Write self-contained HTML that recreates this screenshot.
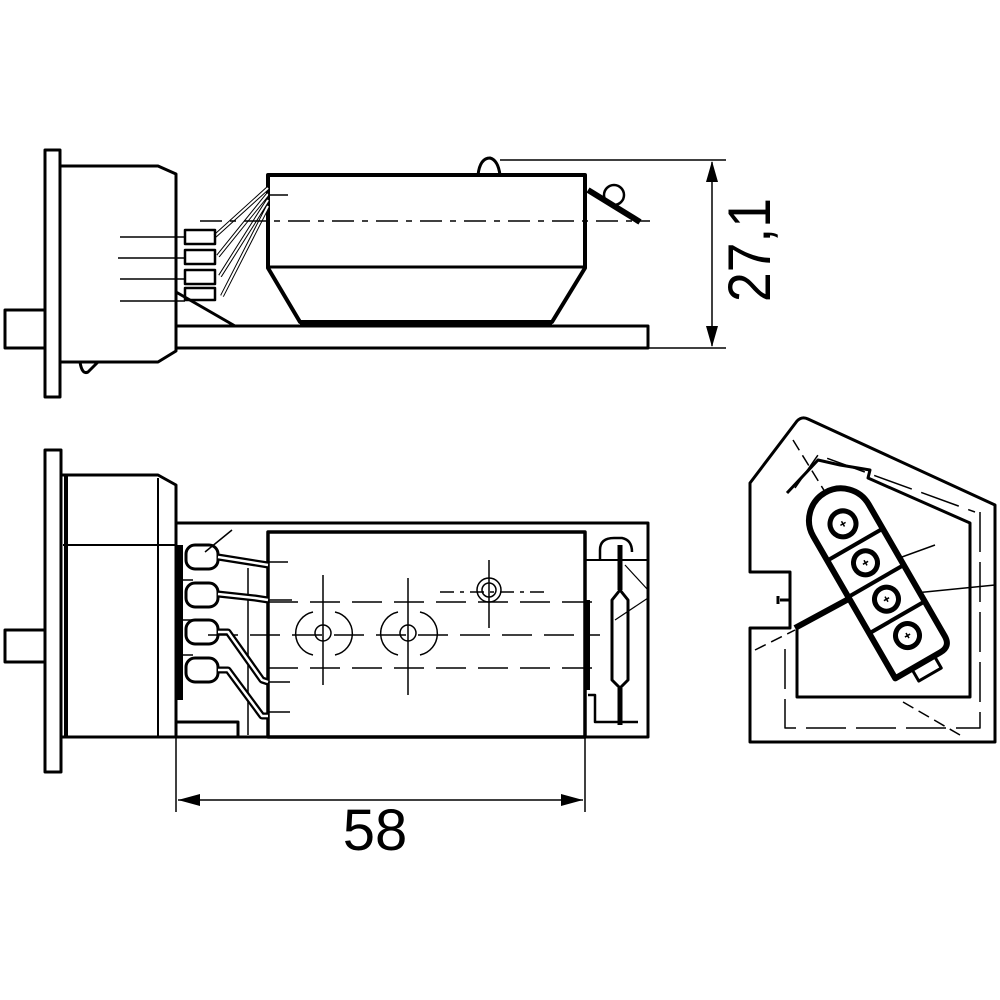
<!DOCTYPE html>
<html><head><meta charset="utf-8"><style>html,body{margin:0;padding:0;background:#fff}svg{display:block}</style></head>
<body>
<svg width="1000" height="1000" viewBox="0 0 1000 1000" xmlns="http://www.w3.org/2000/svg" fill="none" stroke="#000" stroke-linejoin="round">
<!-- ===== TOP VIEW ===== -->
<g stroke-width="3">
<rect x="45" y="150" width="15" height="247"/>
<path d="M60 166 H158 L176 174 V351 L158 362 H60"/>
<rect x="5" y="310" width="40" height="38"/>
<path d="M176 326 H648 V348 H176"/>
<path d="M268 175 H585 V268 L552 322 H300 L268 268 Z" stroke-width="4"/>
<line x1="268" y1="267" x2="585" y2="267"/>
<path d="M478 175 Q480 158 490 158 Q498 160 500 175"/>
<path d="M80 362 Q82 375 88 372 L98 362"/>
</g>
<line x1="300" y1="324" x2="552" y2="324" stroke-width="5"/>
<path d="M176 292 L235 326" stroke-width="3"/>
<!-- wires top -->
<g stroke-width="4">
<path d="M268 188 L215 236 M268 194 L218 256 M268 200 L220 276 M268 206 L222 296"/>
</g>
<g stroke-width="2" stroke="#fff">
<path d="M268 188 L215 236 M268 194 L218 256 M268 200 L220 276 M268 206 L222 296"/>
</g>
<g stroke-width="2.5">
<rect x="185" y="230" width="30" height="14"/>
<rect x="185" y="250" width="30" height="14"/>
<rect x="185" y="270" width="30" height="14"/>
<rect x="185" y="288" width="30" height="12"/>
</g>
<g stroke-width="1.5">
<line x1="120" y1="237" x2="185" y2="237"/><line x1="118" y1="258" x2="185" y2="258"/>
<line x1="120" y1="279" x2="185" y2="279"/><line x1="120" y1="301" x2="185" y2="301"/>
<line x1="268" y1="195" x2="288" y2="195"/>
<line x1="200" y1="221" x2="650" y2="221" stroke-dasharray="22,8,6,8"/>
</g>
<!-- screw top right -->
<circle cx="614" cy="195" r="10" stroke-width="2.5"/>
<line x1="588" y1="190" x2="640" y2="222" stroke-width="6"/>
<!-- dimension 27,1 -->
<g stroke-width="1.5">
<line x1="500" y1="160" x2="726" y2="160"/>
<line x1="648" y1="348" x2="726" y2="348"/>
<line x1="712" y1="162" x2="712" y2="346"/>
</g>
<path d="M712 161 L706 182 L718 182 Z M712 347 L706 326 L718 326 Z" fill="#000" stroke="none"/>
<text x="0" y="0" transform="translate(770,250) rotate(-90)" font-family="Liberation Sans, sans-serif" font-size="60" fill="#000" stroke="none" text-anchor="middle" textLength="104" lengthAdjust="spacingAndGlyphs">27,1</text>

<!-- ===== FRONT VIEW ===== -->
<g stroke-width="3">
<rect x="45" y="450" width="16" height="322"/>
<path d="M61 475 H158 L176 485 V737 H61"/>
<line x1="66" y1="475" x2="66" y2="737" stroke-width="4"/>
<line x1="63" y1="545" x2="176" y2="545" stroke-width="2"/>
<line x1="158" y1="478" x2="158" y2="737" stroke-width="2"/>
<rect x="5" y="630" width="40" height="32"/>
<rect x="176" y="523" width="472" height="214"/>
<rect x="268" y="532" width="317" height="205" stroke-width="3.5"/>
<path d="M176 722 H238 V737"/>
</g>
<g stroke-width="1.5">
<line x1="268" y1="562" x2="288" y2="562"/><line x1="268" y1="600" x2="292" y2="600"/>
<line x1="268" y1="682" x2="290" y2="682"/><line x1="268" y1="712" x2="290" y2="712"/>
<line x1="268" y1="602" x2="600" y2="602" stroke-dasharray="30,12"/>
<line x1="208" y1="635" x2="600" y2="635" stroke-dasharray="30,12"/>
<line x1="268" y1="668" x2="600" y2="668" stroke-dasharray="30,12"/>
<line x1="440" y1="592" x2="545" y2="592" stroke-dasharray="14,6,4,6"/>
<line x1="248" y1="568" x2="248" y2="735"/>
<line x1="176" y1="737" x2="176" y2="812"/>
<line x1="585" y1="737" x2="585" y2="812"/>
<line x1="178" y1="800" x2="583" y2="800"/>
<line x1="323" y1="575" x2="323" y2="685"/>
<line x1="408" y1="578" x2="408" y2="695"/>
<line x1="489" y1="560" x2="489" y2="628"/>
<path d="M193 580 H176 M193 620 H176 M193 655 H176"/>
<path d="M205 552 L232 530"/>
<circle cx="489" cy="590" r="12"/><circle cx="489" cy="590" r="7"/>
<circle cx="323" cy="633" r="8"/><circle cx="408" cy="633" r="8"/>
<path d="M313 612 A22 22 0 0 0 313 655 M335 612 A22 22 0 0 1 335 655"/>
<path d="M398 612 A22 22 0 0 0 398 655 M420 612 A22 22 0 0 1 420 655"/>
</g>
<path d="M178 800 L200 794 L200 806 Z M583 800 L561 794 L561 806 Z" fill="#000" stroke="none"/>
<text x="375" y="850" font-family="Liberation Sans, sans-serif" font-size="58" fill="#000" stroke="none" text-anchor="middle">58</text>
<!-- connectors front -->
<g stroke-width="3">
<line x1="180" y1="545" x2="180" y2="700" stroke-width="6"/>
<rect x="186" y="545" width="32" height="24" rx="9"/>
<rect x="186" y="583" width="32" height="24" rx="9"/>
<rect x="186" y="620" width="32" height="24" rx="9"/>
<rect x="186" y="658" width="32" height="24" rx="9"/>
</g>
<g stroke-width="7" stroke="#000">
<path d="M218 557 L268 565"/>
<path d="M218 594 L255 598 L268 600"/>
<path d="M218 632 L228 632 L262 680 L268 682"/>
<path d="M218 670 L228 670 L262 716 L268 716"/>
</g>
<g stroke-width="2.5" stroke="#fff">
<path d="M218 557 L268 565"/>
<path d="M218 594 L255 598 L268 600"/>
<path d="M218 632 L228 632 L262 680 L268 682"/>
<path d="M218 670 L228 670 L262 716 L268 716"/>
</g>
<!-- resistor right -->
<g stroke-width="2.5">
<line x1="585" y1="560" x2="648" y2="560" stroke-width="2"/>
<path d="M600 560 V550 Q600 538 614 538 H622 Q632 540 632 552"/>
<line x1="620" y1="545" x2="620" y2="590" stroke-width="5"/>
<path d="M612 600 L620 590 L628 600 V680 L620 688 L612 680 Z" stroke-width="3"/>
<line x1="620" y1="688" x2="620" y2="725" stroke-width="5"/>
<path d="M588 695 H595 V722 H638"/>
<line x1="587" y1="600" x2="587" y2="690" stroke-width="6"/>
</g>
<path d="M615 620 L648 598 M625 565 L648 590" stroke-width="1.2"/>

<!-- ===== SIDE VIEW ===== -->
<g stroke-width="3">
<path d="M750 483 L797 421 Q802 416 808 419 L995 505 V742 H750 V628 H790 V572 H750 Z"/>
<path d="M787 493 L818 460 L840 465 L870 470 L868 478 L970 523 V697 H797 V627" stroke-width="3"/>
<line x1="780" y1="600" x2="790" y2="600" stroke-width="3"/>
<line x1="778" y1="596" x2="778" y2="604"/>
</g>
<g stroke-width="1.5">
<path d="M795 488 L818 455 L975 512" stroke-dasharray="40,10"/>
<path d="M980 512 V728 H785 V640" stroke-dasharray="40,10"/>
<line x1="795" y1="628" x2="880" y2="582" stroke-width="6"/>
<line x1="755" y1="650" x2="795" y2="630" stroke-dasharray="12,6"/>
<line x1="903" y1="702" x2="960" y2="735" stroke-dasharray="12,6"/>
<line x1="793" y1="440" x2="830" y2="500" stroke-dasharray="12,6"/>
<line x1="880" y1="565" x2="935" y2="545"/>
<line x1="895" y1="595" x2="995" y2="585"/>
</g>
<g transform="translate(876,581) rotate(60)">
<path d="M-70 -32 H82 Q94 -32 94 -20 V32 H-70 A32 32 0 0 1 -70 -32 Z" stroke-width="6" fill="#fff"/>
<line x1="-42" y1="-30" x2="-42" y2="30" stroke-width="4"/>
<line x1="0" y1="-30" x2="0" y2="30" stroke-width="4"/>
<line x1="42" y1="-30" x2="42" y2="30" stroke-width="4"/>
<rect x="94" y="-13" width="14" height="26" stroke-width="3"/>
<circle cx="-66" cy="0" r="13" stroke-width="5"/>
<circle cx="-21" cy="0" r="12" stroke-width="5"/>
<circle cx="21" cy="0" r="12" stroke-width="5"/>
<circle cx="63" cy="0" r="12" stroke-width="5"/>
<path d="M-69 0 H-63 M-66 -3 V3 M-24 0 H-18 M-21 -3 V3 M18 0 H24 M21 -3 V3 M60 0 H66 M63 -3 V3" stroke-width="1.5"/>
</g>
</svg>
</body></html>
